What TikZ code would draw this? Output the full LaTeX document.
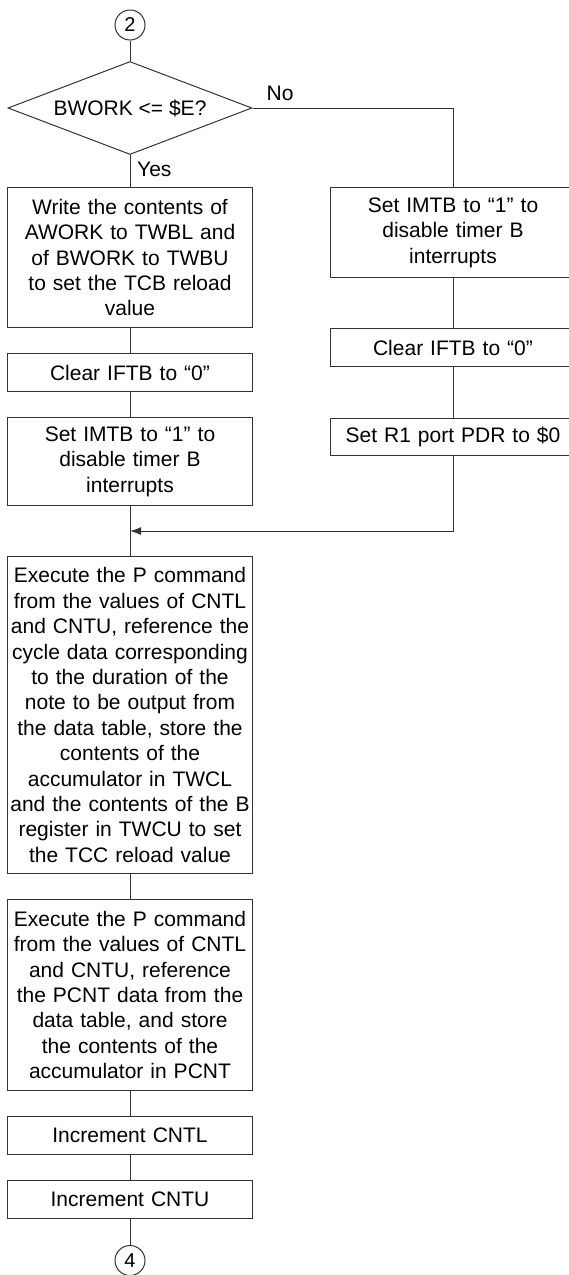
\documentclass[tikz,border=0pt]{standalone}
\usepackage{fontspec}
\setmainfont{Liberation Sans}
\usepackage{tikz}
\usetikzlibrary{arrows.meta,positioning,shapes.geometric}
\definecolor{lgray}{HTML}{333333}
\tikzset{
 box/.style={draw=lgray,line width=1pt,align=center,text width=243pt,inner xsep=1pt,
   inner ysep=0pt,font=\fontsize{21pt}{25.4pt}\selectfont},
 decision/.style={draw=lgray,line width=1pt,diamond,aspect=2.6,minimum width=244pt,
   minimum height=93pt,inner sep=0pt,font=\fontsize{21pt}{25.4pt}\selectfont},
 conn/.style={draw=lgray,line width=1pt,circle,minimum size=30pt,inner sep=0pt,
   font=\fontsize{20pt}{24pt}\selectfont},
 lbl/.style={inner sep=0pt,font=\fontsize{21pt}{25.4pt}\selectfont},
 line/.style={draw=lgray,line width=1pt},
 arrow/.style={-{Latex[length=11pt,width=8pt]},line width=1pt,draw=lgray}
}
\begin{document}
\begin{tikzpicture}[node distance=26pt]
 \useasboundingbox (0,0) rectangle (569pt,-1275pt);
 \node[conn] (c2) at (130pt,-25pt) {2};
 \node[decision,below=20.5pt of c2] (dec) {BWORK <= \$E?};
 \node[box,minimum height=140pt,below=32pt of dec] (b1) {Write the contents of\\AWORK to TWBL and\\of BWORK to TWBU\\to set the TCB reload\\value};
 \node[box,minimum height=38pt,below=25pt of b1] (b2) {Clear IFTB to “0”};
 \node[box,minimum height=88pt,below=25pt of b2] (b3) {Set IMTB to “1” to\\disable timer B\\interrupts};
 \coordinate[below=25pt of b3] (merge);
 \node[box,minimum height=317pt,below=50pt of b3] (b4) {Execute the P command\\from the values of CNTL\\and CNTU, reference the\\cycle data corresponding\\to the duration of the\\note to be output from\\the data table, store the\\contents of the\\accumulator in TWCL\\and the contents of the B\\register in TWCU to set\\the TCC reload value};
 \node[box,minimum height=191pt,below=25pt of b4] (b5) {Execute the P command\\from the values of CNTL\\and CNTU, reference\\the PCNT data from the\\data table, and store\\the contents of the\\accumulator in PCNT};
 \node[box,minimum height=38pt,below=25pt of b5] (b6) {Increment CNTL};
 \node[box,minimum height=38pt,below=25pt of b6] (b7) {Increment CNTU};
 \node[conn,below=26pt of b7] (c4) {4};
 \node[box,minimum height=90pt,anchor=north] (r1) at ([xshift=323pt]b1.north) {Set IMTB to “1” to\\disable timer B\\interrupts};
 \node[box,minimum height=38pt,below=50pt of r1] (r2) {Clear IFTB to “0”};
 \node[box,minimum height=37pt,below=51pt of r2] (r3) {Set R1 port PDR to \$0};
 \node[lbl,anchor=base west] (no) at ([xshift=14pt,yshift=7.5pt]dec.east) {No};
 \node[lbl,anchor=base west] (yes) at ([xshift=7pt,yshift=-21.5pt]dec.south) {Yes};
 \draw[line] (c2)--(dec);
 \draw[line] (dec.south)--(b1);
 \draw[line] (dec.east) -| (r1.north);
 \draw[line] (b1)--(b2);
 \draw[line] (b2)--(b3);
 \draw[line] (b3)--(b4);
 \draw[line] (r1)--(r2);
 \draw[line] (r2)--(r3);
 \draw[arrow] (r3.south) |- (merge);
 \draw[line] (b4)--(b5);
 \draw[line] (b5)--(b6);
 \draw[line] (b6)--(b7);
 \draw[line] (b7)--(c4);
\end{tikzpicture}
\end{document}
